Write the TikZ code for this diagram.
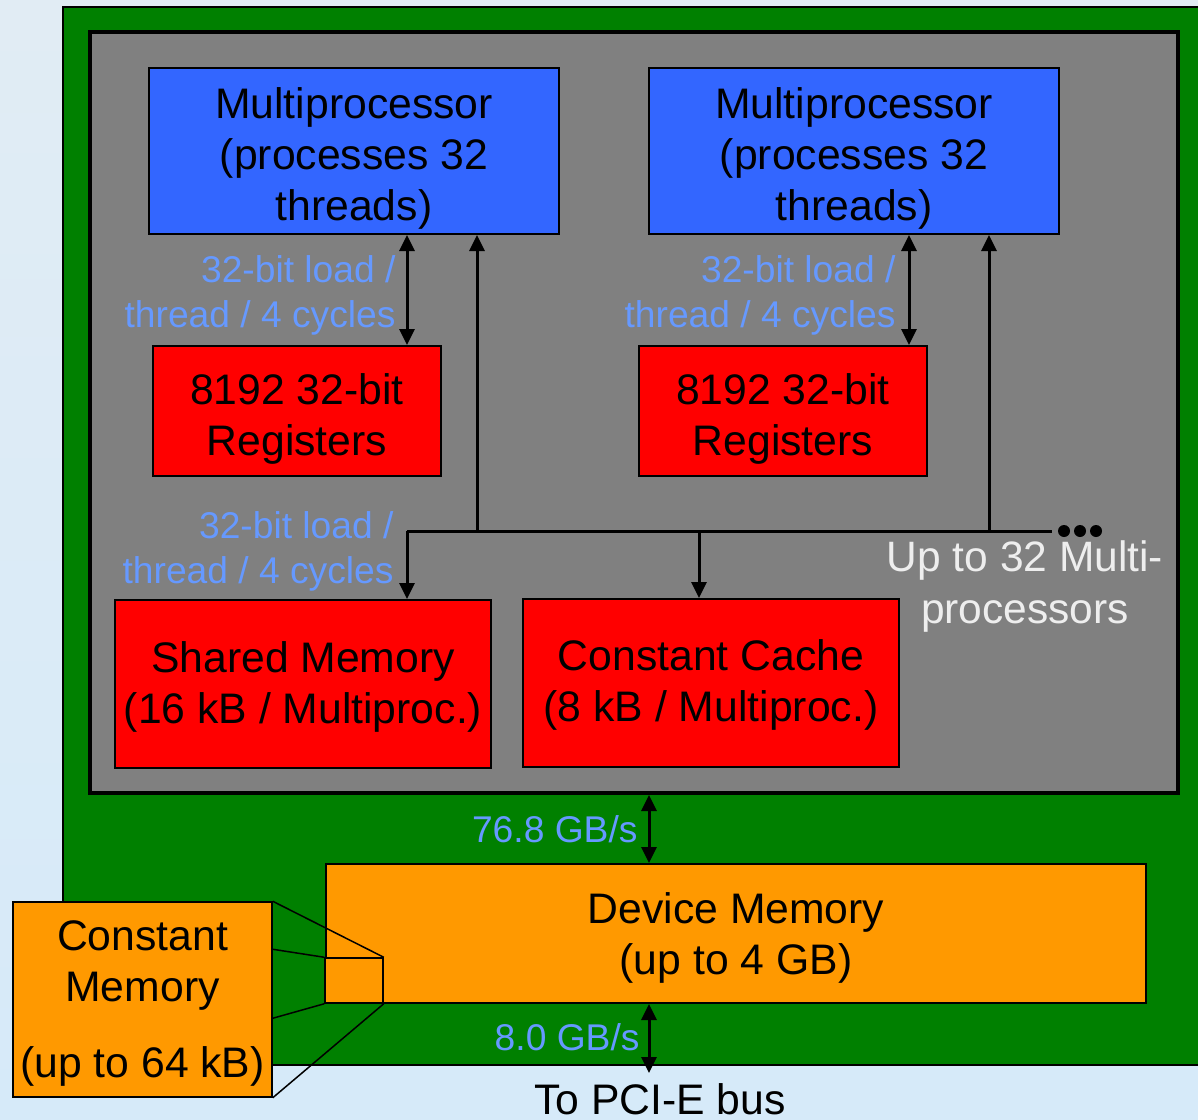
\documentclass[tikz,border=0pt]{standalone}
\usepackage{fontspec}
\setmainfont{Liberation Sans}
\usetikzlibrary{arrows.meta}
\definecolor{bgtop}{RGB}{225,236,244}
\definecolor{bgmid}{RGB}{232,238,242}
\definecolor{bgbot}{RGB}{214,234,249}
\definecolor{boardgreen}{RGB}{0,128,0}
\definecolor{chipgray}{RGB}{128,128,128}
\definecolor{mpblue}{RGB}{51,102,255}
\definecolor{memred}{RGB}{255,0,0}
\definecolor{devorange}{RGB}{255,153,0}
\definecolor{lbl}{RGB}{102,153,255}
\definecolor{whitetxt}{RGB}{238,238,238}
\tikzset{
  bigfont/.style={font=\fontsize{42.7}{51}\selectfont},
  lblfont/.style={font=\fontsize{37.2}{45}\selectfont, text=lbl},
  unitbox/.style={draw=black, line width=2pt, inner sep=0pt},
  boxtext/.style={inner sep=0pt, align=center, bigfont},
  dbl/.style={line width=3pt, {Triangle[length=16pt,width=15pt]}-{Triangle[length=16pt,width=15pt]}},
  sgl/.style={line width=3pt, -{Triangle[length=16pt,width=15pt]}},
  zoomline/.style={line width=1.5pt, black},
}
\begin{document}
\begin{tikzpicture}[x=1pt,y=-1pt]
\useasboundingbox (0,0) rectangle (1198,1119);
\shade[top color=bgtop, middle color=bgmid, bottom color=bgbot] (0,0) rectangle (1198,1119);

% board and chip
\draw[fill=boardgreen, line width=1.5pt] (63,7) rectangle (1215,1065);
\draw[fill=chipgray, line width=4pt] (90,32) rectangle (1178,793);

% multiprocessors
\node[unitbox, fill=mpblue, minimum width=410pt, minimum height=166pt] (mp1) at (354,151) {};
\node[boxtext] (mp1t) at ([yshift=-7pt]mp1.center) {Multiprocessor\\(processes 32\\threads)};
\node[unitbox, fill=mpblue, minimum width=410pt, minimum height=166pt] (mp2) at (854,151) {};
\node[boxtext] (mp2t) at ([yshift=-7pt]mp2.center) {Multiprocessor\\(processes 32\\threads)};

% registers
\node[unitbox, fill=memred, minimum width=288pt, minimum height=130pt] (reg1) at (297,411) {};
\node[boxtext] (reg1t) at ([yshift=-8pt]reg1.center) {8192 32-bit\\Registers};
\node[unitbox, fill=memred, minimum width=288pt, minimum height=130pt] (reg2) at (783,411) {};
\node[boxtext] (reg2t) at ([yshift=-8pt]reg2.center) {8192 32-bit\\Registers};

% shared memory and constant cache
\node[unitbox, fill=memred, minimum width=376pt, minimum height=168pt] (shm) at (303,684) {};
\node[boxtext] (shmt) at ([yshift=-3pt]shm.center) {Shared Memory\\(16 kB / Multiproc.)};
\node[unitbox, fill=memred, minimum width=376pt, minimum height=168pt] (cc) at (711,683) {};
\node[boxtext] (cct) at ([yshift=-2pt]cc.center) {Constant Cache\\(8 kB / Multiproc.)};

% register links
\draw[dbl] (mp1.south -| 407,0) -- (reg1.north -| 407,0);
\draw[dbl] (mp2.south -| 909,0) -- (reg2.north -| 909,0);
\node[lblfont, align=right, anchor=east] (l1) at (399,295) {32-bit load /\\thread / 4 cycles};
\node[lblfont, align=right, anchor=east] (l2) at (899,295) {32-bit load /\\thread / 4 cycles};

% bus
\coordinate (busL) at (407,531);
\coordinate (busR) at (1052,531);
\draw[line width=3pt] (busL) -- (busR);
\draw[sgl] (busL) -- (shm.north -| busL);
\draw[sgl] (477,531) coordinate (j1) -- (mp1.south -| j1);
\draw[sgl] (699,531) coordinate (j2) -- (cc.north -| j2);
\draw[sgl] (989,531) coordinate (j3) -- (mp2.south -| j3);
\node[lblfont, align=right, anchor=east] (l3) at (397,551) {32-bit load /\\thread / 4 cycles};
\fill (1064,531) circle (6pt) (1080,531) circle (6pt) (1096,531) circle (6pt);
\node[font=\fontsize{42.5}{52}\selectfont, text=whitetxt, align=center] (upto) at (1025,587) {Up to 32 Multi-\\processors};

% device memory
\node[unitbox, fill=devorange, minimum width=820pt, minimum height=139pt] (dev) at (736,933.5) {};
\node[boxtext] (devt) at ([yshift=-4pt]dev.center) {Device Memory\\(up to 4 GB)};
\draw[dbl] (649,795) coordinate (c1) -- (dev.north -| c1);
\node[lblfont, anchor=east] (bw1) at (641,829) {76.8 GB/s};
\coordinate (pci) at (649,1073);
\draw[dbl] (dev.south -| pci) -- (pci);
\node[lblfont, anchor=east] (bw2) at (643,1037) {8.0 GB/s};
\node[bigfont, anchor=center] (pcitxt) at (660,1099) {To PCI-E bus};

% constant memory zoom
\node[draw=black, line width=1.5pt, fill=devorange, minimum width=58pt, minimum height=45pt, inner sep=0pt] (small) at (354,980.5) {};
\node[draw=black, line width=1.5pt, fill=devorange, minimum width=259pt, minimum height=195pt, inner sep=0pt] (cmem) at (142.5,999.5) {};
\node[boxtext] (cmemt) at ([yshift=-4pt]cmem.center) {Constant\\Memory\\[25pt](up to 64 kB)};
\draw[zoomline] (cmem.north east) -- (small.north east);
\draw[zoomline] ([yshift=-48pt]cmem.north east) -- (small.north west);
\draw[zoomline] ([yshift=-117pt]cmem.north east) -- (small.south west);
\draw[zoomline] (cmem.south east) -- (small.south east);
\end{tikzpicture}
\end{document}
